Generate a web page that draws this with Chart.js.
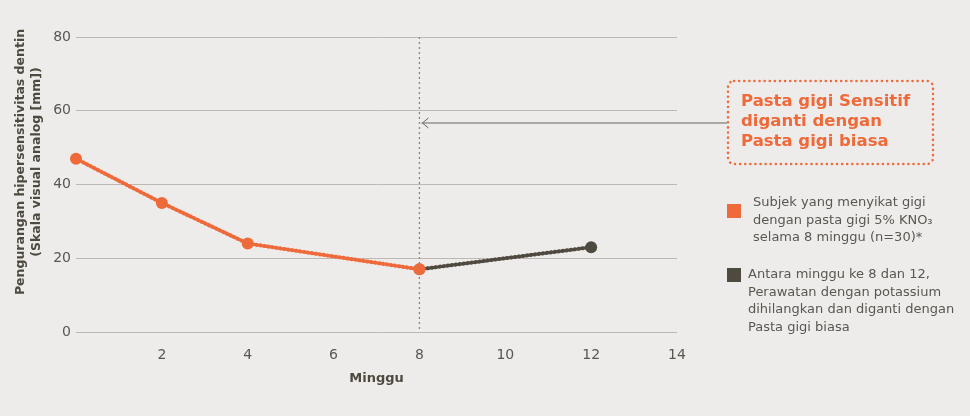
<!DOCTYPE html>
<html lang="id">
  <head>
    <meta charset="utf-8" />
    <title>Hipersensitivitas dentin</title>
    <style>
      * {
        margin: 0;
        padding: 0;
      }
      body {
        background: #eeeceb;
      }
      .chartBox {
        width: 970px;
        height: 416px;
      }
    </style>
  </head>
  <body>
    <div class="chartBox">
      <canvas id="myChart"></canvas>
    </div>
    <script src="https://cdn.jsdelivr.net/npm/chart.js"></script>
    <script>
      // data
      const weeksKno3 = [0, 2, 4, 8];
      const valuesKno3 = [47, 35, 24, 17];
      const weeksBiasa = [8, 12];
      const valuesBiasa = [17, 23];
      const switchWeek = 8;
      const yTicks = [0, 20, 40, 60, 80];
      const xTicks = [2, 4, 6, 8, 10, 12, 14];

      const orange = "#ee6a3a";
      const dark = "#4f4a3f";
      const font = "'DejaVu Sans', sans-serif";

      // annotations: y title, dotted line at week 8, arrow, note box, legend
      const notes = {
        id: "notes",
        afterDatasetsDraw(chart) {
          const { ctx, chartArea, scales: { x } } = chart;
          const xs = x.getPixelForValue(switchWeek);
          ctx.save();

          // y axis title
          ctx.save();
          ctx.translate(21, 162);
          ctx.rotate(-Math.PI / 2);
          ctx.fillStyle = "#4f4a3f";
          ctx.font = "bold 12.5px " + font;
          ctx.textAlign = "center";
          ctx.textBaseline = "middle";
          ctx.fillText("Pengurangan hipersensitivitas dentin", 0, 0);
          ctx.fillText("(Skala visual analog [mm])", 0, 15.5);
          ctx.restore();

          // vertical dotted line
          ctx.strokeStyle = "#8a857e";
          ctx.lineWidth = 1.3;
          ctx.setLineDash([2, 3]);
          ctx.beginPath();
          ctx.moveTo(xs, chartArea.top);
          ctx.lineTo(xs, chartArea.bottom);
          ctx.stroke();

          // arrow
          ctx.setLineDash([]);
          ctx.strokeStyle = "#6b665e";
          ctx.lineWidth = 1;
          ctx.beginPath();
          ctx.moveTo(727, 123);
          ctx.lineTo(xs + 2, 123);
          ctx.moveTo(xs + 9, 118);
          ctx.lineTo(xs + 3, 123);
          ctx.lineTo(xs + 9, 128);
          ctx.stroke();

          // note box
          ctx.strokeStyle = orange;
          ctx.lineWidth = 2.5;
          ctx.lineCap = "round";
          ctx.setLineDash([0.1, 5]);
          ctx.beginPath();
          ctx.roundRect(728, 81, 205, 83, 6);
          ctx.stroke();
          ctx.setLineDash([]);

          ctx.fillStyle = orange;
          ctx.font = "bold 16.5px " + font;
          ctx.textBaseline = "middle";
          ["Pasta gigi Sensitif", "diganti dengan", "Pasta gigi biasa"].forEach(
            (t, i) => ctx.fillText(t, 741, 102 + i * 20)
          );

          // legend
          ctx.fillStyle = orange;
          ctx.fillRect(727, 204, 14, 14);
          ctx.fillStyle = dark;
          ctx.fillRect(727, 268, 14, 14);
          ctx.fillStyle = "#5a5650";
          ctx.font = "13px " + font;
          [
            "Subjek yang menyikat gigi",
            "dengan pasta gigi 5% KNO\u2083",
            "selama 8 minggu (n=30)*",
          ].forEach((t, i) => ctx.fillText(t, 753, 203 + i * 17.5));
          [
            "Antara minggu ke 8 dan 12,",
            "Perawatan dengan potassium",
            "dihilangkan dan diganti dengan",
            "Pasta gigi biasa",
          ].forEach((t, i) => ctx.fillText(t, 748, 275 + i * 17.5));
          ctx.restore();
        },
      };

      const lineStyle = {
        borderWidth: 4,
        borderDash: [1, 3],
        borderCapStyle: "round",
        pointRadius: 6,
        pointHoverRadius: 6,
        pointBorderWidth: 0,
        tension: 0,
        clip: false,
      };

      const config = {
        type: "line",
        data: {
          datasets: [
            {
              label: "Pasta gigi 5% KNO3",
              data: weeksKno3.map((w, i) => ({ x: w, y: valuesKno3[i] })),
              borderColor: orange,
              backgroundColor: orange,
              pointBackgroundColor: orange,
              order: 1,
              ...lineStyle,
            },
            {
              label: "Pasta gigi biasa",
              data: weeksBiasa.map((w, i) => ({ x: w, y: valuesBiasa[i] })),
              borderColor: dark,
              backgroundColor: dark,
              pointBackgroundColor: [orange, dark],
              order: 2,
              ...lineStyle,
            },
          ],
        },
        options: {
          responsive: true,
          maintainAspectRatio: false,
          animation: false,
          layout: {
            padding: { left: 0, right: 293, top: 37, bottom: 30 },
          },
          plugins: {
            legend: { display: false },
            tooltip: { enabled: false },
          },
          scales: {
            x: {
              type: "linear",
              min: 0,
              max: 14,
              afterBuildTicks: (scale) => {
                scale.ticks = xTicks.map((v) => ({ value: v }));
              },
              afterFit: (scale) => {
                scale.height = 54;
              },
              grid: { display: false, drawTicks: false },
              border: { display: false },
              ticks: {
                color: "#5a5650",
                font: { family: font, size: 14 },
                padding: 15,
              },
              title: {
                display: true,
                text: "Minggu",
                color: "#4f4a3f",
                font: { family: font, size: 13, weight: "bold" },
                padding: { top: 6, bottom: 0 },
              },
            },
            y: {
              min: 0,
              max: 80,
              afterBuildTicks: (scale) => {
                scale.ticks = yTicks.map((v) => ({ value: v }));
              },
              afterFit: (scale) => {
                scale.width = 76;
              },
              grid: { color: "#bdb8b2", lineWidth: 1, drawTicks: false },
              border: { display: false },
              ticks: {
                color: "#5a5650",
                font: { family: font, size: 14 },
                padding: 5,
              },
            },
          },
        },
        plugins: [notes],
      };

      const myChart = new Chart(document.getElementById("myChart"), config);
    </script>
  </body>
</html>
